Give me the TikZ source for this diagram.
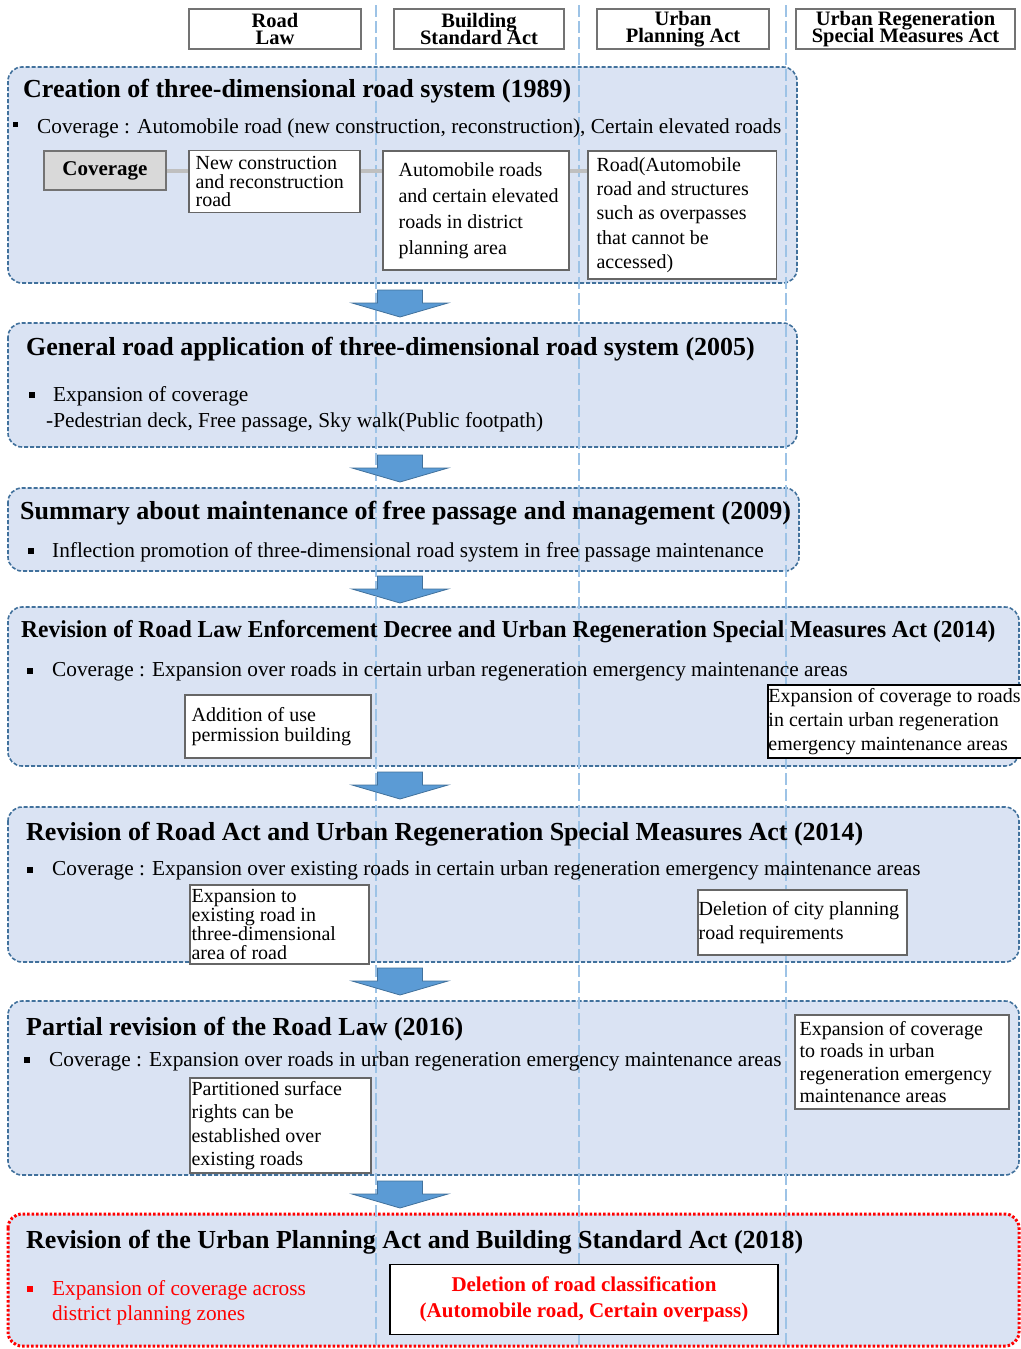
\documentclass[tikz,border=0pt]{standalone}
\usepackage{graphicx}
\usepackage{fontspec}
\setmainfont{Liberation Serif}
\usetikzlibrary{calc}

\definecolor{panelfill}{HTML}{DAE3F3}
\definecolor{paneledge}{HTML}{41719C}
\definecolor{arrowfill}{HTML}{5B9BD5}
\definecolor{guideline}{HTML}{9DC3E6}
\definecolor{linkgray}{HTML}{BFBFBF}

\newcommand\tightlines{\lineskiplimit-20pt\relax}

\tikzset{
  panel/.style={draw=paneledge, fill=panelfill, line width=1.6pt, dash pattern=on 4pt off 2pt, rounded corners=14pt},
  lastpanel/.style={draw=red, fill=panelfill, line width=3pt, dash pattern=on 2.5pt off 2pt, rounded corners=14pt},
  guide/.style={draw=guideline, line width=1.2pt, dash pattern=on 12pt off 4pt},
  blockarrow/.style={fill=arrowfill, draw=paneledge, line width=0.8pt},
  lawbox/.style={draw=black!55, fill=white, line width=1.2pt, inner sep=0pt, minimum height=40pt, align=center, font={\bfseries\fontsize{20.5}{17.5}\selectfont\tightlines}},
  covbox/.style={draw=black!55, fill=black!15, line width=1.5pt, inner sep=0pt, font={\bfseries\fontsize{21}{25}\selectfont}},
  infobox/.style={draw=black!60, fill=white, line width=1.2pt, inner sep=0pt},
  boxtext/.style={anchor=west, inner sep=0pt, align=left, font={\fontsize{20}{#1}\selectfont\tightlines}},
  headline/.style={anchor=base west, inner sep=0pt, font={\bfseries\fontsize{26}{30}\selectfont}},
  itemtext/.style={anchor=base west, inner sep=0pt, font={\fontsize{21.3}{26}\selectfont}},
  itembullet/.style={fill=black, minimum size=5.5pt, inner sep=0pt},
  link/.style={draw=linkgray, line width=4pt},
}

\begin{document}
\begin{tikzpicture}
\begin{scope}[x=1pt, y=-1pt]
\useasboundingbox (0,0) rectangle (1020,1349);

% panels
\draw[panel] (8,67) rectangle (797,283);
\draw[panel] (8,323) rectangle (797,447);
\draw[panel] (8,488) rectangle (799,571);
\draw[panel] (8,607) rectangle (1019,766);
\draw[panel] (8,807) rectangle (1019,962);
\draw[panel] (8,1001) rectangle (1019,1175);
\draw[lastpanel] (8,1214) rectangle (1019,1346);

% guide lines of the four acts
\foreach \gx in {376,579,786}
  \draw[guide] (\gx,5) -- (\gx,1349);

% arrows between the stages
\foreach \t in {290,455,576,772,968,1181}
  \filldraw[blockarrow] (377.5,\t) -- (422.5,\t) -- (422.5,\t+13) -- (448,\t+13)
    -- (400,\t+27) -- (352,\t+13) -- (377.5,\t+13) -- cycle;

% the four acts
\node[lawbox, minimum width=172pt] (roadlaw) at (275,29) {Road\\Law};
\node[lawbox, minimum width=170pt] (buildact) at (479,29) {Building\\Standard Act};
\node[lawbox, minimum width=172pt] (planact) at (683,29) {Urban\\Planning Act};
\node[lawbox, minimum width=219pt] (regenact) at (905.5,29) {Urban Regeneration\\Special Measures Act};

% 1989
\node[headline] (t1) at (23,97) {Creation of three-dimensional road system (1989)};
\node[itembullet] (s1) at (15.5,124.5) {};
\node[itemtext] (c1) at (37,133) {Coverage : Automobile road (new construction, reconstruction), Certain elevated roads};
\node[covbox, minimum width=122pt, minimum height=39pt] (cov) at (105,170.5) {Coverage};
\node[infobox, minimum width=171pt, minimum height=62pt] (nc) at (274.5,181.5) {};
\node[boxtext=18.7] (nctxt) at ([xshift=7pt]nc.west) {New construction\\and reconstruction\\road};
\node[infobox, minimum width=186pt, minimum height=119pt] (ar) at (476,210.5) {};
\node[boxtext=26] (artxt) at ([xshift=16pt]ar.west) {Automobile roads\\and certain elevated\\roads in district\\planning area};
\node[infobox, minimum width=188.5pt, minimum height=128pt] (rd) at (682.25,215) {};
\node[boxtext=24.2] (rdtxt) at ([xshift=9pt]rd.west) {Road(Automobile\\road and structures\\such as overpasses\\that cannot be\\accessed)};
\draw[link] (cov.east) -- (cov.east -| nc.west);
\draw[link] (cov.east -| nc.east) -- (cov.east -| ar.west);
\draw[link] (cov.east -| ar.east) -- (cov.east -| rd.west);

% 2005
\node[headline] (t2) at (26,355.5) {General road application of three-dimensional road system (2005)};
\node[itembullet] (s2) at (32,395) {};
\node[itemtext] (c2) at (53,401.5) {Expansion of coverage};
\node[itemtext] (c2b) at (46,427.5) {-Pedestrian deck, Free passage, Sky walk(Public footpath)};

% 2009
\node[headline] (t3) at (20,519) {Summary about maintenance of free passage and management (2009)};
\node[itembullet] (s3) at (31,551) {};
\node[itemtext] (c3) at (52,557) {Inflection promotion of three-dimensional road system in free passage maintenance};

% 2014 decree
\node[headline, font={\bfseries\fontsize{24.3}{30}\selectfont}] (t4) at (21,637) {\scalebox{0.965}[1]{Revision of Road Law Enforcement Decree and Urban Regeneration Special Measures Act (2014)}};
\node[itembullet] (s4) at (30,671) {};
\node[itemtext] (c4) at (52,676.5) {Coverage : Expansion over roads in certain urban regeneration emergency maintenance areas};
\node[infobox, minimum width=186pt, minimum height=63pt] (usebox) at (278,726.5) {};
\node[boxtext=20] (usetxt) at ([xshift=7pt]usebox.west) {Addition of use\\permission building};
\node[infobox, draw=black, line width=1.5pt, minimum width=254pt, minimum height=73pt] (regenbox) at (895,721.5) {};
\node[boxtext=24] (regentxt) at ([xshift=1pt]regenbox.west) {Expansion of coverage to roads\\in certain urban regeneration\\emergency maintenance areas};

% 2014 act
\node[headline] (t5) at (26,840) {Revision of Road Act and Urban Regeneration Special Measures Act (2014)};
\node[itembullet] (s5) at (30,870) {};
\node[itemtext] (c5) at (52,875.5) {Coverage : Expansion over existing roads in certain urban regeneration emergency maintenance areas};
\node[infobox, minimum width=179pt, minimum height=79pt] (existbox) at (279.5,924.5) {};
\node[boxtext=19] (existtxt) at ([xshift=2pt]existbox.west) {Expansion to\\existing road in\\three-dimensional\\area of road};
\node[infobox, minimum width=209pt, minimum height=65pt] (cityplan) at (802.5,922.5) {};
\node[boxtext=23.5] (cityplantxt) at ([xshift=1pt]cityplan.west) {Deletion of city planning\\road requirements};

% 2016
\node[headline] (t6) at (26,1035) {Partial revision of the Road Law (2016)};
\node[itembullet] (s6) at (27,1060) {};
\node[itemtext] (c6) at (49,1066) {Coverage : Expansion over roads in urban regeneration emergency maintenance areas};
\node[infobox, minimum width=181pt, minimum height=95pt] (surfbox) at (280.5,1125.5) {};
\node[boxtext=23.4] (surftxt) at ([xshift=2pt]surfbox.west) {Partitioned surface\\rights can be\\established over\\existing roads};
\node[infobox, minimum width=214pt, minimum height=94pt] (urbanbox) at (902,1062) {};
\node[boxtext=22.6] (urbantxt) at ([xshift=5pt]urbanbox.west) {Expansion of coverage\\to roads in urban\\regeneration emergency\\maintenance areas};

% 2018
\node[headline] (t7) at (26,1248) {Revision of the Urban Planning Act and Building Standard Act (2018)};
\node[itembullet, fill=red] (s7) at (30,1289) {};
\node[itemtext, text=red] (c7) at (52,1295) {Expansion of coverage across};
\node[itemtext, text=red] (c7b) at (52,1320) {district planning zones};
\node[infobox, draw=black, align=center, minimum width=388pt, minimum height=70pt, text=red,
  font={\bfseries\fontsize{21}{25.5}\selectfont}] (classbox) at (584,1299.5) {Deletion of road classification\\(Automobile road, Certain overpass)};

\end{scope}
\end{tikzpicture}
\end{document}
